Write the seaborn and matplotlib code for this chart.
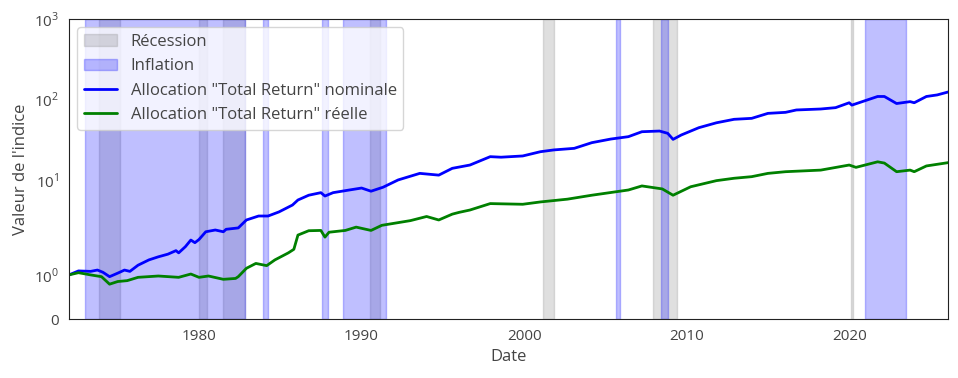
import seaborn as sns
import matplotlib.pyplot as plt
import matplotlib.patches as mpatches
import pandas as pd

# dates / values
nom_dates = ["1972-01", "1972-08", "1973-05", "1973-10", "1974-02", "1974-07", "1975-01",
             "1975-06", "1975-10", "1976-04", "1976-12", "1977-07", "1978-02", "1978-08",
             "1978-10", "1979-03", "1979-07", "1979-10", "1980-01", "1980-06", "1981-01",
             "1981-07", "1981-09", "1982-06", "1982-12", "1983-09", "1984-04", "1984-12",
             "1985-10", "1986-02", "1986-10", "1987-07", "1987-10", "1988-04", "1989-04",
             "1990-01", "1990-08", "1991-05", "1992-04", "1993-08", "1994-10", "1995-08",
             "1996-09", "1997-12", "1998-08", "1999-12", "2001-01", "2001-11", "2003-02",
             "2004-03", "2005-05", "2006-06", "2007-04", "2008-05", "2008-11", "2009-03",
             "2009-09", "2010-10", "2011-11", "2012-12", "2014-01", "2015-01", "2016-02",
             "2016-10", "2018-04", "2019-03", "2020-01", "2020-03", "2021-10", "2022-03",
             "2022-12", "2023-10", "2024-01", "2024-10", "2025-06", "2026-02"]
nom_values = [1.00, 1.09, 1.08, 1.11, 1.06, 0.96, 1.04,
              1.11, 1.08, 1.22, 1.34, 1.41, 1.47, 1.55,
              1.50, 1.64, 1.84, 1.73, 1.87, 2.33, 2.45,
              2.33, 2.50, 2.60, 3.26, 3.65, 3.65, 4.10,
              4.99, 5.76, 6.6, 7.1, 6.45, 7.1, 7.66,
              8.1, 7.4, 8.3, 10.2, 12.3, 11.7, 14.2,
              15.6, 19.8, 19.5, 20.2, 22.8, 24.0, 25.1,
              29.5, 32.7, 35.0, 40.3, 41.1, 38.5, 32.4,
              36.7, 45.2, 52.0, 57.4, 59.0, 68.0, 70.0,
              74.9, 77.0, 80.0, 92.0, 86.0, 110.0, 110.0,
              90.0, 95.0, 92.0, 110.0, 115.0, 125.0]

real_dates = ["1972-01", "1972-08", "1973-05", "1974-01", "1974-07", "1975-01", "1975-08",
              "1976-04", "1977-07", "1978-10", "1979-07", "1980-01", "1980-08", "1981-07",
              "1982-04", "1982-06", "1982-12", "1983-07", "1984-03", "1984-09", "1985-07",
              "1985-11", "1986-02", "1986-10", "1987-07", "1987-10", "1988-01", "1989-01",
              "1989-09", "1990-08", "1991-04", "1993-01", "1994-01", "1994-10", "1995-08",
              "1996-01", "1996-09", "1997-12", "1999-12", "2001-01", "2002-09", "2004-03",
              "2006-06", "2007-04", "2008-07", "2009-03", "2010-04", "2011-11", "2012-12",
              "2014-01", "2015-01", "2016-02", "2018-04", "2020-01", "2020-06", "2021-10",
              "2022-03", "2022-12", "2023-10", "2024-01", "2024-10", "2026-02"]
real_values = [1.00, 1.05, 1.00, 0.96, 0.79, 0.85, 0.87,
               0.945, 0.975, 0.945, 1.02, 0.945, 0.975, 0.90,
               0.92, 0.96, 1.15, 1.26, 1.21, 1.34, 1.50,
               1.58, 2.12, 2.40, 2.42, 2.00, 2.30, 2.42,
               2.66, 2.42, 2.80, 3.20, 3.60, 3.26, 3.85,
               4.05, 4.33, 5.2, 5.1, 5.45, 5.9, 6.6,
               7.66, 8.6, 7.9, 6.6, 8.4, 10.0, 10.7,
               11.2, 12.3, 12.9, 13.5, 15.6, 14.6, 17.1,
               16.5, 12.9, 13.5, 12.9, 15.2, 16.7]

recessions = [("1973-11", "1975-03"), ("1980-01", "1980-07"), ("1981-07", "1982-11"),
              ("1990-07", "1991-03"), ("2001-03", "2001-11"), ("2007-12", "2009-06"),
              ("2020-02", "2020-04")]
inflations = [("1973-01", "1982-11"), ("1983-12", "1984-04"), ("1987-08", "1987-12"),
              ("1988-11", "1991-07"), ("2005-09", "2005-12"), ("2008-06", "2008-11"),
              ("2021-01", "2023-07")]

label_nom = 'Allocation "Total Return" nominale'
label_real = 'Allocation "Total Return" réelle'

df = pd.concat([
    pd.DataFrame({"Date": pd.to_datetime(nom_dates), "val": nom_values, "serie": label_nom}),
    pd.DataFrame({"Date": pd.to_datetime(real_dates), "val": real_values, "serie": label_real}),
])

sns.set_style("white")
plt.rcParams['font.family'] = ['Open Sans', 'DejaVu Sans']
plt.rcParams['mathtext.fontset'] = 'custom'
plt.rcParams['mathtext.rm'] = 'Open Sans'

fig = plt.figure(figsize=(9.58, 3.78), dpi=100)
ax = fig.add_axes([0.072, 0.156, 0.9177, 0.7937])

for a, b in recessions:
    ax.axvspan(pd.Timestamp(a), pd.Timestamp(b), color="grey", alpha=0.25)
for a, b in inflations:
    ax.axvspan(pd.Timestamp(a), pd.Timestamp(b), color="blue", alpha=0.25)

sns.lineplot(data=df, x="Date", y="val", hue="serie",
             palette={label_nom: "blue", label_real: "green"},
             linewidth=2, legend=False, ax=ax)

ax.set_yscale("symlog", linthresh=1.75, linscale=0.86)
ax.set_ylim(0, 1000)
ax.set_yticks([0, 1, 10, 100, 1000])
ax.set_yticklabels(["0", r"$10^{0}$", r"$10^{1}$", r"$10^{2}$", r"$10^{3}$"])
ax.set_xlim(pd.Timestamp("1972-01"), pd.Timestamp("2026-02"))
ax.tick_params(labelsize=11, colors="#444444")
ax.set_xlabel("Date", fontsize=12, color="#444444")
ax.set_ylabel("Valeur de l'indice", fontsize=12, color="#444444")
for s in ax.spines.values():
    s.set_color("#222222")

handles = [
    mpatches.Patch(color="grey", alpha=0.25, label="Récession"),
    mpatches.Patch(color="blue", alpha=0.25, label="Inflation"),
    plt.Line2D([], [], color="blue", lw=2, label=label_nom),
    plt.Line2D([], [], color="green", lw=2, label=label_real),
]
ax.legend(handles=handles, loc="upper left", fontsize=12, frameon=True,
          labelcolor="#444444")

fig.savefig("out.png", dpi=100)
